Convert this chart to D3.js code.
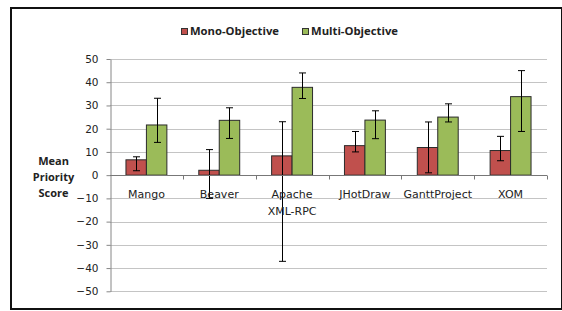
<!DOCTYPE html>
<html>
<head>
<meta charset="utf-8">
<script src="https://cdn.jsdelivr.net/npm/d3@7"></script>
<style>
  body { margin: 0; background: #fff; }
</style>
</head>
<body>
<div id="root"></div>
<script>
const categories = ["Mango", "Beaver", "Apache XML-RPC", "JHotDraw", "GanttProject", "XOM"]
const seriesNames = ["Mono-Objective", "Multi-Objective"]

const monoMean = [6.6, 2.1, 8.3, 12.7, 11.9, 10.6]
const monoLow = [1.9, -10, -37.1, 10.0, 1.0, 6.2]
const monoHigh = [7.9, 11, 23, 18.8, 22.9, 16.7]

const multiMean = [21.6, 23.6, 37.8, 23.7, 25.0, 33.8]
const multiLow = [14.1, 15.8, 33.0, 15.7, 22.9, 18.8]
const multiHigh = [33.1, 29.0, 44.0, 27.7, 30.7, 45.0]

const yTicks = [-50, -40, -30, -20, -10, 0, 10, 20, 30, 40, 50]
const yLabel = ["Mean", "Priority", "Score"]

const colors = ["#c0504d", "#9bbb59"]

const width = 562
const height = 311
const margin = { top: 59, bottom: 19, left: 110, right: 15 }

const svg = d3.select("#root").append("svg")
  .attr("width", width)
  .attr("height", height)

// outer frame
svg.append("rect")
  .attr("x", 11).attr("y", 8)
  .attr("width", 551).attr("height", 301)
  .attr("fill", "none")
  .attr("stroke", "#111")
  .attr("stroke-width", 2)

const y = d3.scaleLinear()
  .domain([-50, 50])
  .range([height - margin.bottom - 0.7, margin.top])

const x = d3.scaleBand()
  .domain(categories)
  .range([margin.left, width - margin.right])

const xSub = d3.scaleBand()
  .domain(seriesNames)
  .range([0, x.bandwidth()])
  .paddingInner(0)
  .paddingOuter(0.78)

// gridlines
svg.append("g")
  .selectAll("line")
  .data(yTicks)
  .enter()
  .append("line")
  .attr("x1", margin.left)
  .attr("x2", width - margin.right)
  .attr("y1", d => Math.round(y(d)) + 0.5)
  .attr("y2", d => Math.round(y(d)) + 0.5)
  .attr("stroke", "#c4c4c4")

// y axis
const yAxis = svg.append("g")
  .attr("transform", "translate(" + (margin.left + 0.5) + ",0)")
  .call(d3.axisLeft(y).tickValues(yTicks).tickSize(4).tickPadding(8).tickSizeOuter(0))
yAxis.select(".domain").attr("stroke", "#868686")
yAxis.selectAll(".tick line").attr("stroke", "#868686")
yAxis.selectAll("text")
  .attr("font-family", "DejaVu Sans")
  .attr("font-size", 10.5)
  .attr("fill", "#222")

// bars
const series = [
  { name: seriesNames[0], mean: monoMean, low: monoLow, high: monoHigh },
  { name: seriesNames[1], mean: multiMean, low: multiLow, high: multiHigh }
]

series.forEach((s, si) => {
  const rows = categories.map((c, i) => ({ cat: c, mean: s.mean[i], low: s.low[i], high: s.high[i] }))

  svg.append("g")
    .selectAll("rect")
    .data(rows)
    .enter()
    .append("rect")
    .attr("x", d => x(d.cat) + xSub(s.name))
    .attr("y", d => y(Math.max(0, d.mean)))
    .attr("width", xSub.bandwidth())
    .attr("height", d => Math.abs(y(d.mean) - y(0)))
    .attr("fill", colors[si])
    .attr("stroke", "#2b2b2b")
    .attr("stroke-width", 1)

  const err = svg.append("g")
    .selectAll("g")
    .data(rows)
    .enter()
    .append("g")
    .attr("transform", d => "translate(" + (Math.round(x(d.cat) + xSub(s.name) + xSub.bandwidth() / 2) + 0.5) + ",0)")

  err.append("line")
    .attr("y1", d => y(d.low))
    .attr("y2", d => y(d.high))
    .attr("stroke", "#000")
  err.append("line")
    .attr("x1", -3.5).attr("x2", 3.5)
    .attr("y1", d => y(d.high)).attr("y2", d => y(d.high))
    .attr("stroke", "#000")
  err.append("line")
    .attr("x1", -3.5).attr("x2", 3.5)
    .attr("y1", d => y(d.low)).attr("y2", d => y(d.low))
    .attr("stroke", "#000")
})

// x axis at zero, ticks between categories
const zeroY = Math.round(y(0)) + 0.5
const xa = svg.append("g")
xa.append("line")
  .attr("x1", margin.left).attr("x2", width - margin.right)
  .attr("y1", zeroY).attr("y2", zeroY)
  .attr("stroke", "#777")
xa.selectAll(".sep")
  .data(categories)
  .enter()
  .append("line")
  .attr("class", "sep")
  .attr("x1", d => Math.round(x(d) + x.bandwidth()) + 0.5)
  .attr("x2", d => Math.round(x(d) + x.bandwidth()) + 0.5)
  .attr("y1", zeroY).attr("y2", zeroY + 4)
  .attr("stroke", "#777")

const catText = xa.selectAll(".cat")
  .data(categories)
  .enter()
  .append("text")
  .attr("class", "cat")
  .attr("x", d => x(d) + x.bandwidth() / 2)
  .attr("y", zeroY + 22.5)
  .attr("text-anchor", "middle")
  .attr("font-family", "DejaVu Sans")
  .attr("font-size", 11)
  .attr("fill", "#222")

catText.each(function(d) {
  const words = d === "Apache XML-RPC" ? ["Apache", "XML-RPC"] : [d]
  d3.select(this).selectAll("tspan")
    .data(words)
    .enter()
    .append("tspan")
    .attr("x", x(d) + x.bandwidth() / 2)
    .attr("dy", (w, i) => i === 0 ? 0 : 16.5)
    .text(w => w)
})

// y label
svg.append("text")
  .attr("font-family", "Open Sans")
  .attr("font-weight", "bold")
  .attr("font-size", 11)
  .attr("fill", "#222")
  .attr("text-anchor", "middle")
  .selectAll("tspan")
  .data(yLabel)
  .enter()
  .append("tspan")
  .attr("x", 53.5)
  .attr("y", (d, i) => 165 + i * 16)
  .text(d => d)

// legend
const legendX = [181, 302]
const legendW = [89, 87]
const legend = svg.append("g")
  .selectAll("g")
  .data(seriesNames)
  .enter()
  .append("g")
  .attr("transform", (d, i) => "translate(" + legendX[i] + ",28)")
legend.append("rect")
  .attr("x", 0.5).attr("y", 0.5)
  .attr("width", 6).attr("height", 6)
  .attr("fill", (d, i) => colors[i])
  .attr("stroke", "#333")
legend.append("text")
  .attr("x", 9)
  .attr("y", 7)
  .attr("font-family", "Open Sans")
  .attr("font-weight", "bold")
  .attr("font-size", 10.5)
  .attr("fill", "#222")
  .attr("textLength", (d, i) => legendW[i])
  .attr("lengthAdjust", "spacingAndGlyphs")
  .text(d => d)
</script>
</body>
</html>
